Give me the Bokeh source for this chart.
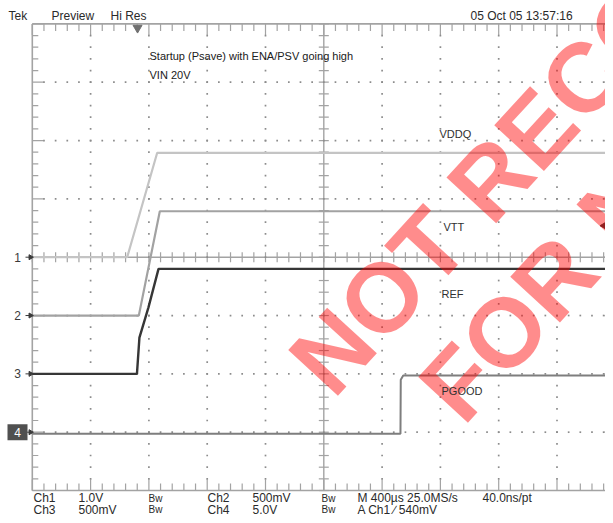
import numpy as np
from bokeh.plotting import figure
from bokeh.models import Range1d, Label
from bokeh.core.properties import value
from bokeh.embed import file_html
from bokeh.resources import INLINE

# ---------------- data (oscilloscope capture) ----------------
TIME_PER_DIV_US = 400.0
ch_labels = ["VDDQ", "VTT", "REF", "PGOOD"]
ch_volts_per_div = [1.0, 0.5, 0.5, 5.0]
ch_ground_div = [0, -1, -2, -3]
ch_colors = ["#c4c4c4", "#a2a2a2", "#363636", "#7e7e7e"]
ch_widths = [2.2, 2.2, 2.4, 2.0]

vddq_t = [0, 651, 857, 4000]
vddq_v = [0.0, 0.0, 1.79, 1.79]
vtt_t = [0, 731, 875, 4000]
vtt_v = [0.0, 0.0, 0.894, 0.894]
ref_t = [0, 718, 735, 754, 797, 866, 4000]
ref_v = [0.0, 0.0, 0.31, 0.39, 0.57, 0.90, 0.90]
pgood_t = [0, 2526, 2528, 2545, 4000]
pgood_v = [-0.14, -0.14, 4.5, 4.86, 4.86]

traces_t = [vddq_t, vtt_t, ref_t, pgood_t]
traces_v = [vddq_v, vtt_v, ref_v, pgood_v]

trigger_time_us = 722
trigger_level_v = 0.54

header_left = ["Tek", "Preview", "Hi Res"]
header_right = "05 Oct 05 13:57:16"
footer_row1 = ["Ch1", "1.0V", "Bw", "Ch2", "500mV", "Bw", "M 400\u00b5s 25.0MS/s", "40.0ns/pt"]
footer_row2 = ["Ch3", "500mV", "Bw", "Ch4", "5.0V", "Bw", "A  Ch1  \u2215  540mV"]
note_lines = ["Startup (Psave) with ENA/PSV going high", "VIN 20V"]
watermark_lines = ["NOT RECOMMENDED", "FOR NEW DESIGNS"]

# ---------------- geometry (page pixels) ----------------
W, H = 605, 515
GX0, GY0 = 31.8, 256.7     # graticule left edge, centre line
DX, DY = 58.3, 58.33       # px per division


def X(px):
    return (px - GX0) / DX


def Y(py):
    return (GY0 - py) / DY


p = figure(width=W, height=H, output_backend="svg", toolbar_location=None,
           x_range=Range1d(X(0), X(W)), y_range=Range1d(Y(H), Y(0)),
           x_axis_location=None, y_axis_location=None, min_border=0)
p.grid.visible = False
p.outline_line_color = None
p.background_fill_color = "white"
p.border_fill_color = "white"

GC = "#a3a3a3"
# border
p.segment(x0=[0, 0, 0, 10], y0=[-4, 4, -4, -4], x1=[10, 10, 0, 10], y1=[-4, 4, 4, 4],
          line_color=GC, line_width=1.6)
# centre cross
p.segment(x0=[5, 0], y0=[-4, 0], x1=[5, 10], y1=[4, 0], line_color=GC, line_width=1.4)

mx = np.round(np.arange(0, 10.001, 0.2), 3)
my = np.round(np.arange(-4, 4.001, 0.2), 3)
majx = np.isclose(mx, np.round(mx))
majy = np.isclose(my, np.round(my))
Lx = np.where(majx, 11, 7) / DY
Ly = np.where(majy, 11, 6) / DX
# top / bottom ticks
p.segment(x0=mx, y0=np.full_like(mx, 4), x1=mx, y1=4 - Lx, line_color=GC, line_width=1.2)
p.segment(x0=mx, y0=np.full_like(mx, -4), x1=mx, y1=-4 + Lx, line_color=GC, line_width=1.2)
# left / right ticks
p.segment(x0=np.zeros_like(my), y0=my, x1=Ly, y1=my, line_color=GC, line_width=1.2)
p.segment(x0=np.full_like(my, 10), y0=my, x1=10 - Ly, y1=my, line_color=GC, line_width=1.2)
# centre ticks
p.segment(x0=mx, y0=np.full_like(mx, -5 / DY), x1=mx, y1=np.full_like(mx, 5 / DY),
          line_color=GC, line_width=1.2)
p.segment(x0=np.full_like(my, 5 - 5 / DX), y0=my, x1=np.full_like(my, 5 + 5 / DX), y1=my,
          line_color=GC, line_width=1.2)
# dotted grid
dxs, dys = [], []
for gx in [1, 2, 3, 4, 6, 7, 8, 9]:
    for yy in my[1:-1]:
        dxs.append(gx); dys.append(yy)
for gy in [-3, -2, -1, 1, 2, 3]:
    for xx in mx[1:-1]:
        dxs.append(xx); dys.append(gy)
p.scatter(dxs, dys, marker="square", size=1.7, fill_color="#8c8c8c", line_color=None)

# traces
for t, v, vpd, g, c, lw in zip(traces_t, traces_v, ch_volts_per_div, ch_ground_div,
                               ch_colors, ch_widths):
    xd = np.array(t) / TIME_PER_DIV_US
    yd = g + np.array(v) / vpd
    p.line(xd, yd, line_color=c, line_width=lw)

# channel ground markers
MC = "#3a3a3a"
for i, g in enumerate(ch_ground_div):
    p.segment(x0=[X(25)], y0=[g], x1=[X(31)], y1=[g], line_color=MC, line_width=1)
    p.scatter([X(30)], [g], marker="triangle", angle=-np.pi / 2, size=5,
              fill_color=MC, line_color=MC)
    if i == 3:
        p.quad(left=[X(7)], right=[X(27)], bottom=[g - 8 / DY], top=[g + 8 / DY],
               fill_color="#505050", line_color=None)
        col = "white"
    else:
        col = MC
    p.add_layout(Label(x=X(17), y=g, text=str(i + 1), text_color=col,
                       text_font="Liberation Sans", text_font_size="12px",
                       text_align="center", text_baseline="middle"))

# trigger position and level markers
p.scatter([trigger_time_us / TIME_PER_DIV_US], [4 - 4 / DY], marker="inverted_triangle", size=9,
          fill_color="#707070", line_color="#707070")
tl = ch_ground_div[0] + trigger_level_v / ch_volts_per_div[0]
p.segment(x0=[X(602)], y0=[tl], x1=[X(605)], y1=[tl], line_color=MC, line_width=1)
p.scatter([X(603)], [tl], marker="triangle", angle=np.pi / 2, size=6,
          fill_color=MC, line_color=MC)

# header and footer
HF = "Liberation Sans"
TC = "#2a2a2a"
for txt, px in zip(header_left, [8, 51, 110]):
    p.add_layout(Label(x=X(px), y=Y(15), text=txt, text_font=HF, text_font_size="12px",
                       text_color=TC, text_baseline="middle"))
p.add_layout(Label(x=X(470), y=Y(15), text=header_right, text_font=HF, text_font_size="12px",
                   text_color=TC, text_baseline="middle"))
fx1 = [33, 78, 148, 207, 252, 321, 357, 482]
fx2 = [33, 78, 148, 207, 252, 321, 357]
for row, xs, py in [(footer_row1, fx1, 497.5), (footer_row2, fx2, 509)]:
    for txt, px in zip(row, xs):
        fs = "10px" if txt == "Bw" else "12px"
        p.add_layout(Label(x=X(px), y=Y(py), text=txt, text_font=HF, text_font_size=fs,
                           text_color=TC, text_baseline="middle"))

# notes and channel names
NF = "Liberation Sans"
for txt, py in zip(note_lines, [55, 74]):
    p.add_layout(Label(x=X(149), y=Y(py), text=txt, text_font=NF, text_font_size="11px",
                       text_color="#202020", text_baseline="middle"))
for txt, (px, py) in zip(ch_labels, [(439, 133), (443, 226), (441, 293), (441, 390)]):
    p.add_layout(Label(x=X(px), y=Y(py), text=txt, text_font=NF, text_font_size="11px",
                       text_color="#303030", text_baseline="middle"))

# watermark
p.text(x=[X(308), X(438)], y=[Y(377), Y(404)], text=watermark_lines,
       angle=np.deg2rad(47.5), text_font=value(NF), text_font_style="bold", text_font_size="98px",
       text_color="#ff0000", text_alpha=0.45, text_baseline="alphabetic", text_align="left")

open("out.html", "w").write(file_html(p, INLINE))
